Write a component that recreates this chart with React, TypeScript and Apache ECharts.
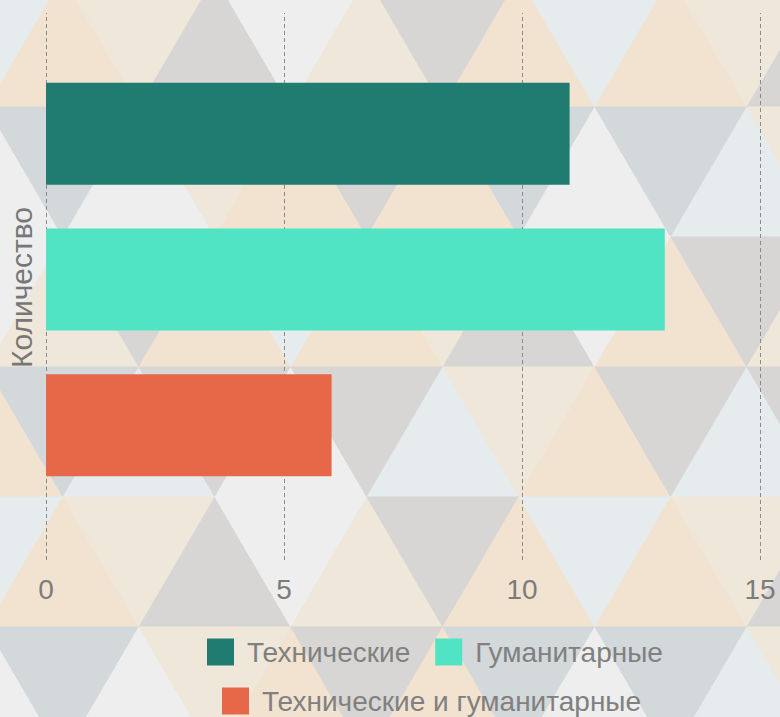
import React, { useEffect, useRef } from 'react';
import * as echarts from 'echarts';

// ---- data ----
const categories = ['Количество'];
const axisName = 'Количество';
const seriesNames = ['Технические', 'Гуманитарные', 'Технические и гуманитарные'];
const technicalValues = [11];
const humanitarianValues = [13];
const bothValues = [6];
const axisMin = 0;
const axisMax = 15;
const axisInterval = 5;

// ---- styles ----
const FONT = '"Liberation Sans", Arial, sans-serif';
const seriesColors = ['#207C70', '#50E4C4', '#E66848'];

// decorative background (triangle tessellation)
const BG: Record<string, string> = {
  B: '#EFE7D9',
  P: '#F1E3D0',
  G: '#D7D6D5',
  S: '#D3D8DA',
  W: '#EEEEEE',
  L: '#E6EBED',
};
const bgRows = [
  'LPBGWBGPLPBG',
  'WSWBPGPSWSLB',
  'WBGPLPBGWPGB',
  'PSLGWGLBPGLG',
  'LPBGWBGPLPBG',
  'WSWBPGPSWSLB',
];

function buildTriangles() {
  const H = 130;
  const W = 152;
  const y0 = -23;
  const x0 = -13;
  const els: any[] = [];
  bgRows.forEach((row, r) => {
    const top = y0 + H * r;
    const bot = top + H;
    for (let i = 0; i < row.length; i++) {
      const c = x0 + (W / 2) * i;
      const up = r % 2 === 0 ? i % 2 === 1 : i % 2 === 0;
      const pts = up
        ? [[c, top], [c + W / 2, bot], [c - W / 2, bot]]
        : [[c - W / 2, top], [c + W / 2, top], [c, bot]];
      const col = BG[row[i]];
      els.push({
        type: 'polygon',
        shape: { points: pts },
        style: { fill: col, stroke: col, lineWidth: 1 },
        silent: true,
        z: -10,
      });
    }
  });
  return els;
}

export default function App() {
  const ref = useRef<HTMLDivElement>(null);
  useEffect(() => {
    if (!ref.current) return;
    const chart = echarts.init(ref.current, undefined, { renderer: 'svg' });
    const legendBase = {
      orient: 'horizontal',
      icon: 'rect',
      itemWidth: 27,
      itemHeight: 27,
      itemGap: 25,
      padding: 5,
      textStyle: { fontSize: 28, color: '#808080', fontFamily: FONT, padding: [0, 0, 0, 8] },
    };
    const values = [technicalValues, humanitarianValues, bothValues];
    chart.setOption({
      animation: false,
      backgroundColor: '#ECE9E4',
      graphic: { elements: buildTriangles() },
      grid: {
        left: 46,
        right: 20,
        top: -1,
        height: 561,
        containLabel: false,
        outerBoundsMode: 'none',
      },
      xAxis: {
        type: 'value',
        min: axisMin,
        max: axisMax,
        interval: axisInterval,
        axisLine: { show: false },
        splitLine: { show: false },
        axisTick: {
          show: true,
          inside: true,
          length: 547,
          lineStyle: { color: '#8a8a8a', type: [4, 3], width: 1 },
        },
        axisLabel: { fontSize: 28, color: '#7c7c7c', margin: 15, fontFamily: FONT },
      },
      yAxis: {
        type: 'category',
        data: categories,
        inverse: true,
        axisLine: { show: false },
        axisTick: { show: false },
        axisLabel: { show: false },
        name: axisName,
        nameLocation: 'middle',
        nameGap: 10,
        nameRotate: 90,
        nameTextStyle: { fontSize: 30, color: '#777777', fontFamily: FONT, padding: [0, 16, 0, 0] },
      },
      legend: [
        { ...legendBase, data: seriesNames.slice(0, 2), left: 202, top: 633 },
        { ...legendBase, data: [seriesNames[2]], left: 217, top: 682 },
      ],
      series: seriesNames.map((name, i) => ({
        type: 'bar',
        name,
        data: values[i],
        barWidth: 102,
        barGap: '43%',
        itemStyle: { color: seriesColors[i] },
      })),
    });
    return () => chart.dispose();
  }, []);
  return (
    <div
      ref={ref}
      style={{ position: 'fixed', left: 0, top: 0, width: 780, height: 717 }}
    />
  );
}
